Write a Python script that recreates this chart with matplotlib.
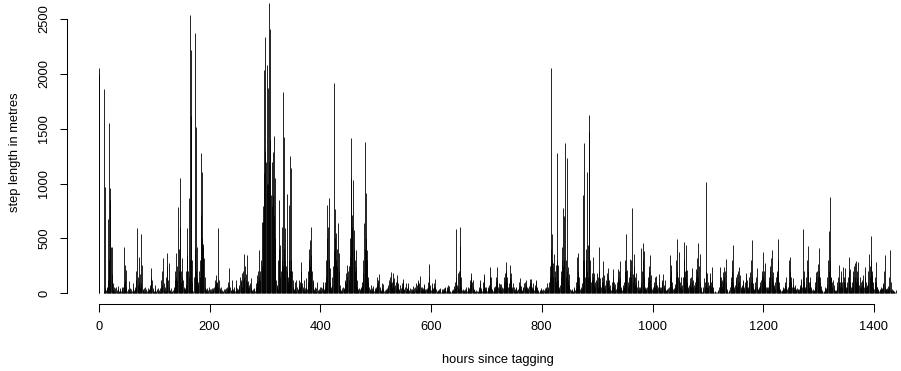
import matplotlib
matplotlib.use("Agg")
import matplotlib.pyplot as plt
import numpy as np

plt.rcParams["font.family"] = ["Liberation Sans", "DejaVu Sans"]

# hourly step lengths (metres), hour 0 .. 1439
step_length = [
    2050, 2000, 0, 0, 0, 0, 0, 0, 0, 20, 1860, 970, 50, 30, 45, 60, 120, 680, 300, 1550,
    960, 850, 425, 420, 180, 90, 40, 25, 60, 45, 20, 55, 30, 10, 40, 65, 25, 15, 50, 30,
    20, 55, 35, 10, 60, 90, 425, 258, 120, 213, 60, 25, 40, 15, 30, 115, 20, 45, 10, 35,
    25, 50, 90, 30, 15, 40, 60, 120, 200, 596, 150, 80, 334, 100, 60, 180, 541, 90, 258, 40,
    30, 15, 45, 20, 60, 35, 10, 25, 50, 20, 40, 30, 60, 80, 150, 228, 120, 45, 30, 20,
    15, 76, 40, 25, 10, 35, 20, 50, 15, 30, 45, 20, 60, 120, 80, 200, 319, 90, 40, 25,
    60, 30, 150, 250, 365, 120, 274, 60, 30, 20, 45, 15, 10, 25, 30, 40, 60, 120, 200, 150,
    365, 120, 250, 790, 200, 400, 1049, 608, 200, 100, 150, 319, 120, 60, 40, 30, 50, 80, 200, 350,
    593, 200, 866, 150, 300, 2538, 1620, 2220, 300, 100, 0, 20, 150, 400, 2371, 1520, 200, 425, 150, 100,
    80, 200, 150, 300, 714, 1277, 500, 1109, 450, 425, 319, 150, 60, 30, 40, 20, 50, 30, 15, 60,
    40, 20, 35, 15, 25, 50, 30, 45, 60, 80, 120, 100, 167, 90, 100, 60, 593, 120, 45, 30,
    20, 60, 15, 30, 25, 10, 40, 20, 35, 15, 50, 30, 60, 45, 100, 80, 228, 60, 30, 20,
    45, 122, 40, 20, 30, 60, 25, 80, 122, 50, 30, 20, 40, 60, 80, 150, 100, 120, 60, 182,
    120, 200, 356, 150, 250, 180, 120, 350, 100, 60, 115, 80, 50, 90, 137, 60, 30, 20, 40, 15,
    30, 50, 20, 60, 90, 120, 167, 100, 200, 395, 150, 200, 120, 300, 653, 250, 653, 800, 2036, 1100,
    1300, 2340, 1200, 1000, 2082, 1869, 1000, 1200, 2644, 1400, 2407, 900, 1200, 800, 1292, 900, 1435, 700, 1049, 500,
    120, 80, 60, 40, 300, 851, 400, 441, 150, 200, 300, 608, 250, 1830, 400, 1422, 300, 593, 250, 906,
    200, 150, 100, 300, 805, 200, 1252, 300, 1140, 200, 120, 60, 40, 30, 106, 50, 20, 122, 60, 30,
    40, 80, 122, 60, 100, 200, 289, 90, 40, 60, 122, 30, 20, 50, 137, 60, 40, 100, 200, 300,
    400, 486, 250, 350, 602, 200, 100, 122, 40, 20, 30, 60, 25, 45, 106, 30, 15, 40, 20, 55,
    30, 60, 20, 45, 80, 106, 40, 20, 60, 100, 150, 300, 500, 805, 600, 866, 300, 228, 100, 60,
    40, 80, 150, 250, 395, 1915, 500, 766, 300, 547, 250, 400, 644, 200, 365, 76, 40, 20, 30, 45,
    20, 60, 35, 50, 100, 120, 182, 90, 150, 258, 200, 120, 250, 334, 500, 1049, 1413, 600, 714, 1033,
    400, 578, 300, 200, 395, 243, 120, 60, 40, 30, 50, 20, 35, 60, 45, 80, 100, 182, 300, 638,
    400, 1377, 500, 912, 300, 395, 150, 106, 60, 30, 40, 20, 76, 50, 30, 67, 40, 20, 45, 30,
    60, 35, 80, 152, 100, 120, 176, 60, 40, 20, 30, 50, 91, 85, 40, 20, 30, 15, 40, 25,
    30, 50, 60, 80, 122, 100, 150, 198, 90, 60, 100, 182, 120, 60, 137, 80, 40, 100, 120, 167,
    60, 91, 40, 30, 76, 50, 20, 60, 90, 100, 128, 40, 30, 60, 20, 91, 50, 40, 70, 91,
    30, 20, 50, 35, 15, 40, 25, 67, 30, 50, 20, 60, 91, 40, 30, 80, 100, 122, 60, 90,
    158, 60, 30, 60, 40, 50, 30, 76, 82, 40, 20, 35, 50, 30, 60, 100, 150, 264, 80, 40,
    30, 60, 97, 50, 30, 60, 90, 128, 60, 40, 20, 15, 30, 25, 40, 20, 46, 30, 15, 25,
    40, 20, 35, 50, 30, 55, 45, 20, 40, 60, 50, 76, 70, 30, 20, 15, 10, 25, 30, 20,
    40, 67, 30, 50, 100, 590, 150, 80, 188, 60, 40, 200, 432, 602, 150, 60, 30, 20, 40, 30,
    20, 35, 15, 55, 30, 20, 40, 60, 30, 50, 80, 120, 150, 182, 100, 60, 122, 40, 30, 20,
    15, 10, 30, 20, 15, 25, 40, 60, 90, 122, 50, 30, 20, 40, 100, 150, 173, 60, 40, 60,
    30, 20, 40, 60, 50, 80, 150, 237, 152, 60, 40, 30, 20, 60, 30, 50, 70, 100, 150, 243,
    120, 60, 40, 91, 60, 85, 40, 85, 60, 30, 50, 100, 150, 182, 120, 200, 283, 150, 100, 60,
    91, 60, 150, 258, 120, 182, 60, 40, 97, 60, 30, 20, 40, 50, 60, 30, 20, 40, 60, 100,
    140, 80, 40, 67, 30, 20, 50, 60, 90, 106, 60, 80, 122, 60, 40, 30, 50, 70, 91, 128,
    131, 91, 60, 40, 91, 50, 30, 60, 80, 100, 122, 60, 40, 30, 20, 15, 30, 20, 40, 46,
    30, 20, 40, 15, 30, 50, 25, 60, 40, 30, 91, 60, 40, 100, 150, 250, 401, 2052, 300, 541,
    274, 150, 359, 200, 150, 258, 100, 300, 1283, 258, 120, 60, 40, 80, 150, 200, 300, 419, 250, 775,
    300, 705, 1368, 150, 300, 1231, 200, 243, 120, 176, 80, 40, 30, 20, 40, 30, 20, 15, 40, 60,
    30, 50, 100, 150, 334, 200, 371, 150, 80, 40, 60, 30, 50, 97, 300, 897, 1374, 300, 150, 300,
    400, 1109, 200, 150, 441, 1626, 1474, 300, 150, 100, 189, 120, 328, 150, 182, 80, 60, 100, 120, 189,
    100, 60, 150, 419, 200, 137, 80, 60, 100, 150, 295, 100, 167, 60, 40, 80, 120, 189, 100, 150,
    228, 120, 60, 76, 40, 30, 60, 100, 150, 219, 100, 60, 30, 85, 40, 60, 100, 150, 219, 120,
    200, 298, 150, 60, 40, 30, 50, 76, 60, 100, 200, 300, 541, 200, 213, 100, 60, 80, 150, 310,
    200, 300, 150, 775, 176, 100, 250, 359, 150, 80, 182, 100, 60, 40, 122, 60, 30, 55, 40, 100,
    410, 200, 462, 300, 389, 150, 60, 40, 46, 30, 60, 100, 150, 200, 250, 350, 120, 167, 60, 40,
    30, 60, 80, 100, 146, 60, 100, 158, 80, 40, 60, 100, 176, 60, 40, 30, 60, 100, 120, 176,
    80, 60, 122, 40, 30, 20, 40, 30, 46, 20, 60, 150, 350, 200, 258, 100, 60, 40, 30, 50,
    60, 85, 150, 300, 495, 200, 150, 380, 120, 60, 100, 152, 60, 40, 80, 150, 300, 471, 200, 150,
    441, 213, 100, 213, 60, 40, 80, 100, 137, 60, 150, 228, 100, 60, 122, 80, 60, 100, 150, 219,
    200, 319, 150, 456, 250, 359, 100, 60, 30, 15, 10, 30, 60, 137, 60, 100, 1018, 200, 60, 188,
    100, 60, 80, 150, 182, 100, 60, 237, 120, 60, 30, 15, 10, 20, 10, 5, 6, 10, 20, 30,
    60, 150, 243, 100, 152, 120, 60, 198, 100, 150, 243, 200, 310, 100, 40, 20, 10, 6, 15, 30,
    60, 100, 150, 200, 300, 441, 100, 60, 40, 80, 120, 150, 176, 60, 100, 200, 243, 100, 167, 60,
    40, 80, 60, 100, 122, 60, 40, 100, 150, 188, 60, 122, 40, 60, 100, 150, 198, 100, 300, 486,
    150, 60, 91, 40, 30, 60, 100, 150, 228, 55, 40, 30, 60, 40, 80, 100, 120, 167, 200, 380,
    150, 120, 200, 274, 100, 60, 55, 40, 30, 60, 100, 150, 200, 250, 319, 395, 150, 100, 198, 80,
    60, 40, 100, 150, 182, 200, 300, 492, 100, 60, 40, 30, 20, 30, 20, 40, 60, 30, 50, 80,
    100, 146, 60, 40, 30, 60, 100, 304, 200, 328, 150, 100, 60, 137, 80, 60, 40, 76, 60, 40,
    30, 50, 40, 30, 20, 40, 60, 80, 100, 128, 60, 150, 584, 200, 100, 60, 40, 80, 150, 300,
    432, 200, 100, 60, 152, 100, 60, 40, 30, 20, 40, 30, 24, 60, 100, 198, 150, 200, 267, 150,
    200, 410, 150, 100, 67, 40, 30, 20, 15, 10, 20, 40, 60, 30, 50, 76, 150, 300, 571, 200,
    300, 875, 150, 137, 100, 60, 122, 80, 40, 30, 20, 15, 30, 60, 100, 150, 258, 100, 60, 100,
    150, 200, 100, 60, 243, 100, 150, 228, 100, 60, 40, 60, 100, 150, 328, 200, 219, 100, 60, 30,
    60, 100, 150, 200, 250, 280, 150, 100, 298, 200, 150, 289, 100, 80, 60, 152, 100, 60, 80, 120,
    167, 100, 60, 150, 237, 100, 60, 76, 60, 100, 200, 359, 250, 150, 300, 523, 200, 167, 100, 60,
    40, 100, 150, 289, 100, 60, 60, 40, 30, 20, 36, 30, 40, 60, 40, 50, 80, 91, 200, 350,
    60, 36, 40, 30, 50, 67, 40, 60, 150, 395, 100, 30, 40, 20, 30, 25, 15, 20, 10, 30,
]
hours = np.arange(len(step_length))

x_ticks = [0, 200, 400, 600, 800, 1000, 1200, 1400]
y_ticks = [0, 500, 1000, 1500, 2000, 2500]
x_label = "hours since tagging"
y_label = "step length in metres"

W, H = 901, 371
fig = plt.figure(figsize=(W / 100, H / 100), dpi=100)
ax_left_px, ax_bottom_px = 66.7, 304.3
ax = fig.add_axes([ax_left_px / W, (H - ax_bottom_px) / H, (W - ax_left_px) / W, ax_bottom_px / H])

ax.vlines(hours, 0, step_length, colors="black", linewidth=0.6)

ax.set_xlim(-58.0, 1448.8)
ax.set_ylim(-100.3, 2673)
for s in ["top", "right"]:
    ax.spines[s].set_visible(False)
ax.spines["left"].set_bounds(0, 2500)
ax.spines["bottom"].set_bounds(0, 1400)
for s in ["left", "bottom"]:
    ax.spines[s].set_linewidth(0.75)
ax.set_xticks(x_ticks)
ax.set_yticks(y_ticks)
ax.tick_params(direction="out", length=5.4, width=0.75, labelsize=9.3, color="black")
ax.tick_params(axis="x", pad=6.5)
ax.tick_params(axis="y", pad=6.4)
for lbl in ax.get_yticklabels():
    lbl.set_rotation(90)
    lbl.set_va("center")

fig.text(497.5 / W, 1 - 360 / H, x_label, ha="center", va="center", fontsize=9.3)
fig.text(15 / W, 1 - 152 / H, y_label, ha="center", va="center", rotation=90, fontsize=9.3)

fig.savefig("out.png", dpi=100)
